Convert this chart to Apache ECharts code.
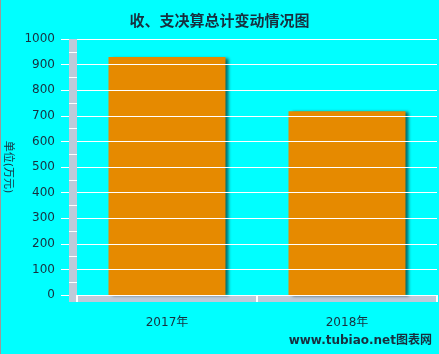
<!DOCTYPE html>
<html><head><meta charset="utf-8">
<script src="https://cdn.jsdelivr.net/npm/echarts@6/dist/echarts.min.js"></script>
<style>html,body{margin:0;padding:0;background:#00FFFF;}#c{width:439px;height:354px;}</style>
</head><body><div id="c"></div>
<script>
var categories = ['2017年', '2018年'];
var values = [930, 718];
var titleText = '收、支决算总计变动情况图';
var yName = '单位(万元)';
var watermark = 'www.tubiao.net图表网';

var txt = '#17303f';
var wall = '#BDCAD9';
var FF = '"DejaVu Sans","Noto Sans CJK SC",sans-serif';
var yBase = {type: 'value', min: 0, max: 1000, interval: 100, position: 'left'};
var chart = echarts.init(document.getElementById('c'));
chart.setOption({
  backgroundColor: '#00FFFF',
  animation: false,
  title: {text: titleText, left: 'center', top: 10, textStyle: {fontSize: 15, fontWeight: 'bold', color: txt, fontFamily: FF}},
  grid: {left: 77, right: 2, top: 39, bottom: 59, containLabel: false, outerBoundsMode: 'none'},
  xAxis: [
    {type: 'category', data: categories, axisLine: {show: false}, axisTick: {show: false},
     axisLabel: {margin: 22, fontSize: 12, color: txt, fontFamily: FF}, z: 5},
    {type: 'category', data: categories, position: 'bottom', offset: 0,
     axisLine: {show: false}, axisTick: {show: true, inside: false, length: 7, lineStyle: {color: '#ffffff', width: 2}}, axisLabel: {show: false}, z: 5}
  ],
  yAxis: [
    Object.assign({}, yBase, {offset: 8, axisLine: {show: false},
      axisTick: {show: true, length: 8, lineStyle: {color: '#ffffff'}},
      axisLabel: {margin: 14, fontSize: 12, color: txt, fontFamily: FF, formatter: function (v) { return String(v); }},
      splitLine: {show: true, lineStyle: {color: '#ffffff', width: 1}},
      name: yName, nameLocation: 'middle', nameRotate: -90, nameGap: 54,
      nameTextStyle: {fontSize: 11, color: txt, fontFamily: FF}, z: 5}),
    Object.assign({}, yBase, {offset: 8, axisLine: {show: false},
      axisTick: {show: false, inside: true}, minorTick: {show: true, splitNumber: 2, length: 8, lineStyle: {color: '#ffffff', width: 1}},
      axisLabel: {show: false}, splitLine: {show: false}, z: 5})
  ],
  series: [{
    type: 'bar', data: values, xAxisIndex: 0, yAxisIndex: 0, barWidth: '65%', z: 4,
    itemStyle: {color: '#E68A00', shadowColor: 'rgba(0,30,30,0.65)', shadowBlur: 3, shadowOffsetX: 3, shadowOffsetY: 1}
  }]
});
var r = chart.getModel().getComponent('grid').coordinateSystem.getRect();
chart.setOption({
  graphic: [
    {type: 'rect', shape: {x: r.x - 8, y: r.y, width: 8, height: r.height + 7}, style: {fill: wall}, z: 1},
    {type: 'rect', shape: {x: r.x - 8, y: r.y + r.height, width: r.width + 8, height: 7}, style: {fill: wall}, z: 1},
    {type: 'rect', shape: {x: 0, y: 0, width: 1, height: 354}, style: {fill: '#9a9a9a'}, z: 10},
    {type: 'text', right: 7, bottom: 7, style: {text: watermark, font: 'bold 12px ' + FF, fill: txt}, z: 10}
  ]
});
</script></body></html>
